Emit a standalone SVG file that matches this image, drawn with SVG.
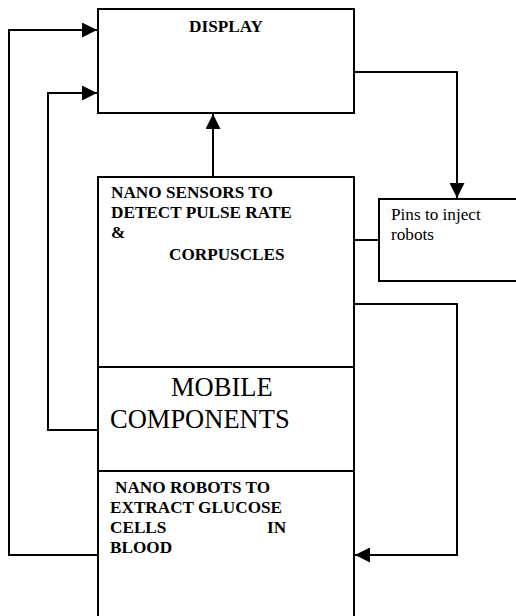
<svg xmlns="http://www.w3.org/2000/svg" width="516" height="616" viewBox="0 0 516 616">
<defs>
<style>
.box{fill:#fff;stroke:#000;stroke-width:2}
.ln{fill:none;stroke:#000;stroke-width:2}
.b{font-family:"Liberation Serif","Times New Roman",serif;font-weight:bold;font-size:17.2px;fill:#000}
.r{font-family:"Liberation Serif","Times New Roman",serif;font-size:17.2px;fill:#000}
.m{font-family:"Liberation Serif","Times New Roman",serif;font-size:26.5px;fill:#000}
</style>
<marker id="ah" viewBox="0 0 10 10" refX="10" refY="5" markerWidth="15" markerHeight="15" markerUnits="userSpaceOnUse" orient="auto">
<path d="M0,0 L10,5 L0,10 Z" fill="#000"/>
</marker>
</defs>
<g id="display">
<rect class="box" x="98" y="9" width="256" height="104"/>
<text class="b" x="226" y="32" text-anchor="middle">DISPLAY</text>
</g>
<g id="pins">
<rect class="box" x="379" y="199" width="145" height="82"/>
<text class="r" x="391" y="220">Pins to inject</text>
<text class="r" x="391" y="240">robots</text>
</g>
<g id="sensors">
<rect class="box" x="98" y="177" width="256" height="190"/>
<text class="b" x="111" y="198">NANO SENSORS TO</text>
<text class="b" x="111" y="218">DETECT PULSE RATE</text>
<text class="b" x="111" y="238">&amp;</text>
<text class="b" x="169" y="260">CORPUSCLES</text>
</g>
<g id="mobile">
<rect class="box" x="98" y="367" width="256" height="104"/>
<text class="m" x="171" y="396">MOBILE</text>
<text class="m" x="110" y="428">COMPONENTS</text>
</g>
<g id="robots">
<path class="ln" d="M98,625 L98,471 L354,471 L354,625"/>
<text class="b" x="115" y="493">NANO ROBOTS TO</text>
<text class="b" x="110" y="513">EXTRACT GLUCOSE</text>
<text class="b" x="110" y="533">CELLS</text>
<text class="b" x="267" y="533">IN</text>
<text class="b" x="110" y="553">BLOOD</text>
</g>
<g id="connectors">
<path class="ln" d="M213,177 L213,114" marker-end="url(#ah)"/>
<path class="ln" d="M354,72 L457,72 L457,198" marker-end="url(#ah)"/>
<path class="ln" d="M354,240 L379,240"/>
<path class="ln" d="M354,304 L457,304 L457,555 L355,555" marker-end="url(#ah)"/>
<path class="ln" d="M98,555 L9,555 L9,30 L97,30" marker-end="url(#ah)"/>
<path class="ln" d="M98,430 L48,430 L48,93 L97,93" marker-end="url(#ah)"/>
</g>
</svg>
